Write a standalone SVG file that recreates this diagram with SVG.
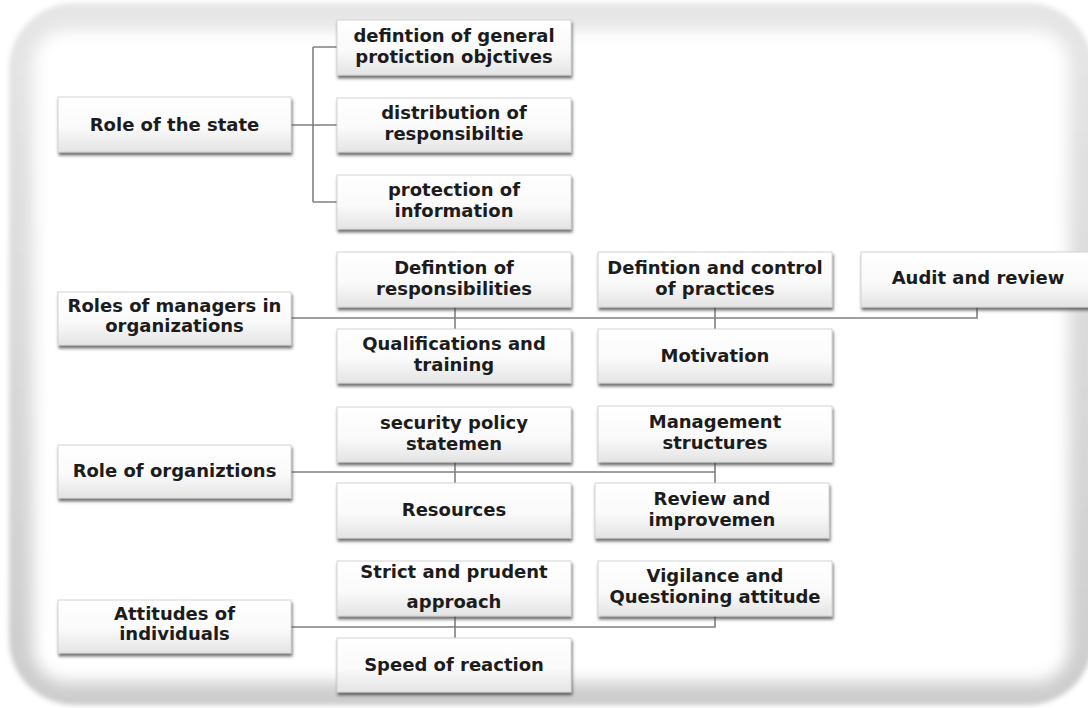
<svg xmlns="http://www.w3.org/2000/svg" width="1088" height="708" viewBox="0 0 1088 708">
<style>
.box{fill:url(#bg);stroke:#d4d4d4;stroke-width:1;filter:url(#sh)}
.t{font-family:"DejaVu Sans","Liberation Sans",sans-serif;font-weight:bold;font-size:18px;fill:#1c1c1c;text-anchor:middle}
.c{fill:none;stroke:#808080;stroke-width:1.6}
</style>
<defs>
<linearGradient id="bg" x1="0" y1="0" x2="0" y2="1">
<stop offset="0" stop-color="#ffffff"/>
<stop offset="0.55" stop-color="#fafafa"/>
<stop offset="1" stop-color="#e4e4e4"/>
</linearGradient>
<linearGradient id="fr" x1="0" y1="0" x2="0" y2="1">
<stop offset="0" stop-color="#e6e6e6"/>
<stop offset="1" stop-color="#cccccc"/>
</linearGradient>
<filter id="sh" x="-5%" y="-10%" width="112%" height="135%">
<feDropShadow dx="1" dy="3" stdDeviation="1.4" flood-color="#444" flood-opacity="0.75"/>
</filter>
<filter id="b1" x="-5%" y="-5%" width="110%" height="110%"><feGaussianBlur stdDeviation="2.5"/></filter>
<filter id="b2" x="-5%" y="-5%" width="110%" height="110%"><feGaussianBlur stdDeviation="8"/></filter>
</defs>
<rect width="1088" height="708" fill="#ffffff"/>
<g id="frame">
<rect x="9" y="3" width="1084" height="702" rx="66" fill="url(#fr)" filter="url(#b1)"/>
<rect x="33" y="30" width="1036" height="652" rx="34" fill="#ffffff" filter="url(#b2)"/>
</g>
<g id="connectors">
<path class="c" d="M291 125H313M313 47V202M313 47H337M313 125H337M313 202H337"/>
<path class="c" d="M291 318H977V307M455 307V329M715 307V329"/>
<path class="c" d="M291 472H715M455 462V483M715 462V483"/>
<path class="c" d="M291 627H715V616M455 616V638"/>
</g>
<g id="n1"><rect class="box" x="58" y="97" width="233" height="55"/><text class="t" x="174.5" y="131">Role of the state</text></g>
<g id="n1a"><rect class="box" x="337" y="20" width="234" height="55"/><text class="t" x="454" y="42">defintion of general</text><text class="t" x="454" y="63">protiction objctives</text></g>
<g id="n1b"><rect class="box" x="337" y="98" width="234" height="54"/><text class="t" x="454" y="119">distribution of</text><text class="t" x="454" y="140">responsibiltie</text></g>
<g id="n1c"><rect class="box" x="337" y="175" width="234" height="54"/><text class="t" x="454" y="196">protection of</text><text class="t" x="454" y="217">information</text></g>
<g id="n2"><rect class="box" x="58" y="292" width="233" height="53"/><text class="t" x="174.5" y="312">Roles of managers in</text><text class="t" x="174.5" y="332">organizations</text></g>
<g id="n2a"><rect class="box" x="337" y="252" width="234" height="55"/><text class="t" x="454" y="274">Defintion of</text><text class="t" x="454" y="295">responsibilities</text></g>
<g id="n2b"><rect class="box" x="337" y="329" width="234" height="54"/><text class="t" x="454" y="350">Qualifications and</text><text class="t" x="454" y="371">training</text></g>
<g id="n2c"><rect class="box" x="598" y="252" width="234" height="55"/><text class="t" x="715" y="274">Defintion and control</text><text class="t" x="715" y="295">of practices</text></g>
<g id="n2d"><rect class="box" x="598" y="329" width="234" height="54"/><text class="t" x="715" y="362">Motivation</text></g>
<g id="n2e"><rect class="box" x="861" y="252" width="234" height="55"/><text class="t" x="978" y="284">Audit and review</text></g>
<g id="n3"><rect class="box" x="58" y="445" width="233" height="53"/><text class="t" x="174.5" y="477">Role of organiztions</text></g>
<g id="n3a"><rect class="box" x="337" y="407" width="234" height="55"/><text class="t" x="454" y="429">security policy</text><text class="t" x="454" y="450">statemen</text></g>
<g id="n3b"><rect class="box" x="337" y="483" width="234" height="55"/><text class="t" x="454" y="516">Resources</text></g>
<g id="n3c"><rect class="box" x="598" y="406" width="234" height="56"/><text class="t" x="715" y="428">Management</text><text class="t" x="715" y="449">structures</text></g>
<g id="n3d"><rect class="box" x="595" y="483" width="234" height="55"/><text class="t" x="712" y="505">Review and</text><text class="t" x="712" y="526">improvemen</text></g>
<g id="n4"><rect class="box" x="58" y="600" width="233" height="53"/><text class="t" x="174.5" y="620">Attitudes of</text><text class="t" x="174.5" y="640">individuals</text></g>
<g id="n4a"><rect class="box" x="337" y="561" width="234" height="55"/><text class="t" x="454" y="578">Strict and prudent</text><text class="t" x="454" y="608">approach</text></g>
<g id="n4b"><rect class="box" x="337" y="638" width="234" height="54"/><text class="t" x="454" y="671">Speed of reaction</text></g>
<g id="n4c"><rect class="box" x="598" y="561" width="234" height="55"/><text class="t" x="715" y="582">Vigilance and</text><text class="t" x="715" y="603">Questioning attitude</text></g>
</svg>
